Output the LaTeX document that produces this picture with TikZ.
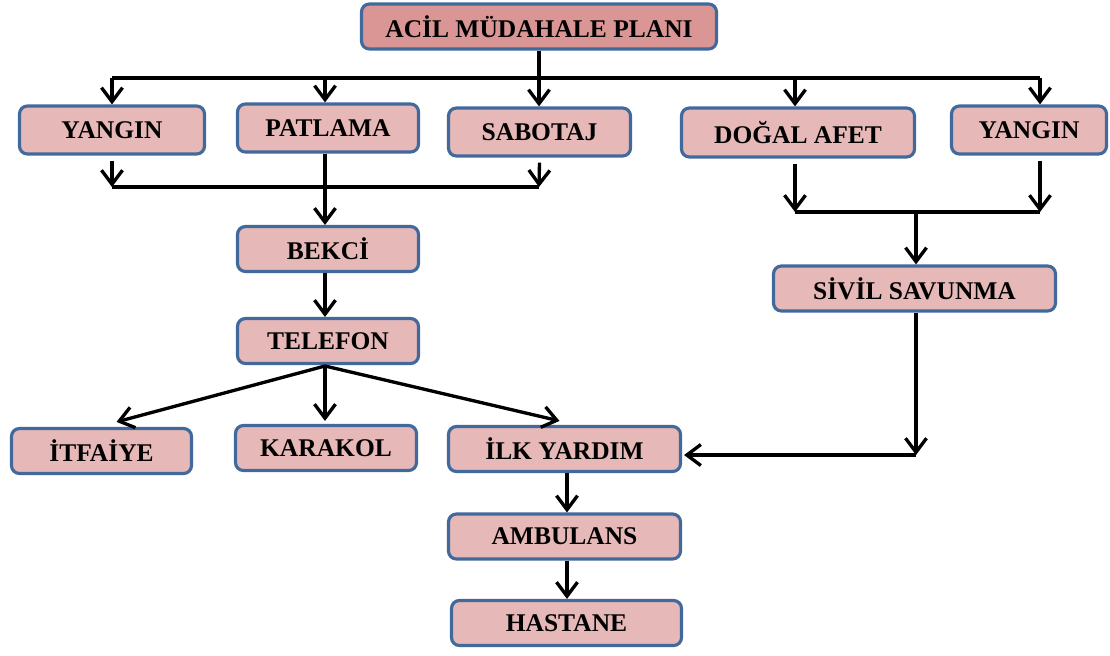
\documentclass[tikz,border=0pt]{standalone}
\usepackage{fontspec}
\setmainfont{Liberation Serif}
\usetikzlibrary{arrows.meta,calc}

\definecolor{kenar}{RGB}{65,105,155}
\definecolor{pembe}{RGB}{230,184,183}
\definecolor{koyupembe}{RGB}{218,150,148}

\tikzset{
  kutu/.style={draw=kenar, fill=pembe, line width=1.8pt, rounded corners=4.5pt,
    minimum height=0.9cm, inner sep=2pt, font=\fontsize{14.5}{16}\selectfont\bfseries},
  ok/.style={line width=1.9pt, -{Straight Barb[length=2.8mm,width=4.2mm,line width=1.9pt]}},
  hat/.style={line width=1.9pt}
}

\begin{document}
\begin{tikzpicture}
\useasboundingbox (0,0) rectangle (22.2,-13.1);
% boxes
\node[kutu, fill=koyupembe, minimum width=7.1cm] (plan) at (10.78,-0.53) {ACİL MÜDAHALE PLANI};
\node[kutu, minimum width=3.7cm, minimum height=0.96cm] (yangin1) at (2.24,-2.6) {YANGIN};
\node[kutu, minimum width=3.62cm, minimum height=0.96cm] (patlama) at (6.56,-2.56) {PATLAMA};
\node[kutu, minimum width=3.64cm, minimum height=0.96cm] (sabotaj) at (10.79,-2.64) {SABOTAJ};
\node[kutu, minimum width=4.66cm, minimum height=0.98cm] (dogal) at (15.96,-2.65) {DOĞAL AFET};
\node[kutu, minimum width=3.1cm, minimum height=0.96cm] (yangin2) at (20.58,-2.6) {YANGIN};
\node[kutu, minimum width=3.62cm] (bekci) at (6.56,-4.98) {BEKCİ};
\node[kutu, minimum width=3.62cm] (telefon) at (6.56,-6.82) {TELEFON};
\node[kutu, minimum width=5.64cm] (sivil) at (18.29,-5.77) {SİVİL SAVUNMA};
\node[kutu, minimum width=3.6cm] (itfaiye) at (2.03,-9.02) {İTFAİYE};
\node[kutu, minimum width=3.62cm] (karakol) at (6.52,-8.96) {KARAKOL};
\node[kutu, minimum width=4.64cm] (ilk) at (11.29,-8.98) {İLK YARDIM};
\node[kutu, minimum width=4.64cm] (ambulans) at (11.29,-10.73) {AMBULANS};
\node[kutu, minimum width=4.6cm] (hastane) at (11.33,-12.46) {HASTANE};

% top bus
\coordinate (b0) at (10.78,-1.56);
\coordinate (b1) at (2.24,-1.56);
\coordinate (b2) at (6.5,-1.56);
\coordinate (b4) at (15.9,-1.56);
\coordinate (b5) at (20.8,-1.56);
\draw[hat] (plan.south) -- (b0);
\draw[hat] (b1) -- (b5);
\draw[ok] (b1) -- (b1 |- yangin1.north);
\draw[ok] (b2) -- (b2 |- patlama.north);
\draw[ok] (b0) -- (b0 |- sabotaj.north);
\draw[ok] (b4) -- (b4 |- dogal.north);
\draw[ok] (b5) -- (b5 |- yangin2.north);

% left group
\coordinate (s1) at (2.24,-3.74);
\coordinate (s2) at (10.78,-3.74);
\draw[ok] (yangin1.south) ++(0,-0.1) -- (s1);
\draw[ok] (sabotaj.south) ++(0,-0.1) -- (s2);
\draw[hat] (s1) -- (s2);
\draw[ok] (b2 |- patlama.south) -- (b2 |- bekci.north);
\draw[ok] (b2 |- bekci.south) -- (b2 |- telefon.north);
\coordinate (t) at (6.5,-7.32);
\draw[ok] (t) -- ($(itfaiye.north)+(0.3,0.1)$);
\draw[ok] (t) -- ($(t |- karakol.north)+(0,0.06)$);
\draw[ok] (t) -- ($(ilk.north)+(-0.1,0.08)$);

% right group
\coordinate (r1) at (15.9,-4.24);
\coordinate (r2) at (20.8,-4.24);
\coordinate (r0) at (18.32,-4.24);
\draw[ok] (r1 |- dogal.south) ++(0,-0.1) -- (r1);
\draw[ok] (r2 |- yangin2.south) ++(0,-0.1) -- (r2);
\draw[hat] (r1) -- (r2);
\draw[ok] (r0) -- (r0 |- sivil.north);
\coordinate (k) at (18.32,-9.1);
\draw[ok] (k |- sivil.south) -- (k);
\draw[ok] (k) -- ($(ilk.east |- k)+(0.04,0)$);

% bottom chain
\draw[ok] ($(ilk.south)+(0.05,0)$) -- ($(ambulans.north)+(0.05,0)$);
\draw[ok] ($(ambulans.south)+(0.05,0)$) -- ($(hastane.north)+(0.01,0)$);
\end{tikzpicture}
\end{document}
